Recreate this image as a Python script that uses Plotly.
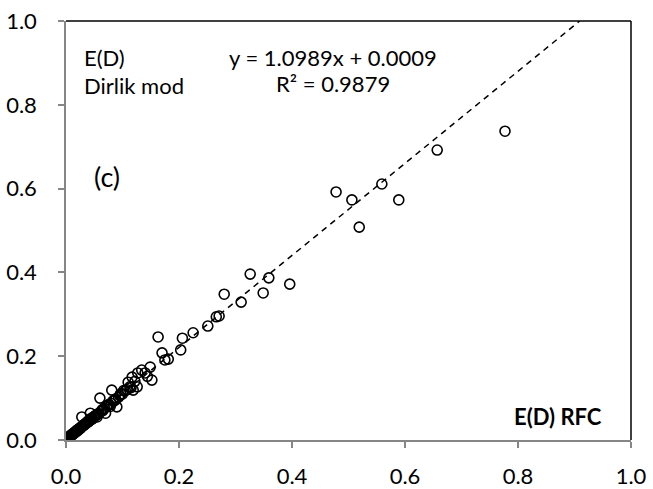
import plotly.graph_objects as go

# E(D) from the RFC method (x) vs the Dirlik model (y)
ed_rfc = [
    0.777, 0.657, 0.559, 0.506, 0.589, 0.519, 0.478,
    0.326, 0.359, 0.396, 0.280, 0.349, 0.310, 0.266, 0.271, 0.251, 0.225,
    0.206, 0.203, 0.163, 0.170, 0.175, 0.181, 0.149, 0.152,
    0.117, 0.127, 0.134, 0.110, 0.113, 0.108, 0.119, 0.126, 0.081, 0.060,
    0.087, 0.090, 0.078, 0.070, 0.055, 0.028, 0.043, 0.097, 0.102, 0.140,
    0.144, 0.122, 0.115, 0.105, 0.093,
    0.001, 0.002, 0.003, 0.004, 0.005, 0.006, 0.007, 0.008, 0.009, 0.010,
    0.011, 0.012, 0.013, 0.014, 0.015, 0.016, 0.018, 0.019, 0.020, 0.021,
    0.022, 0.023, 0.024, 0.025, 0.026, 0.027, 0.029, 0.030, 0.031, 0.032,
    0.033, 0.035, 0.036, 0.038, 0.039, 0.040, 0.042, 0.044, 0.045, 0.047,
    0.049, 0.050, 0.052, 0.054, 0.056, 0.058, 0.062, 0.064, 0.066, 0.068,
    0.072, 0.074, 0.076, 0.080, 0.083, 0.085, 0.088, 0.095, 0.100, 0.004,
    0.008, 0.012, 0.017, 0.034, 0.046, 0.065, 0.003, 0.006, 0.010, 0.015,
]
ed_dirlik = [
    0.737, 0.692, 0.611, 0.573, 0.573, 0.508, 0.592,
    0.396, 0.387, 0.372, 0.348, 0.351, 0.329, 0.294, 0.296, 0.272, 0.256,
    0.243, 0.215, 0.246, 0.208, 0.191, 0.193, 0.174, 0.143,
    0.150, 0.160, 0.167, 0.138, 0.127, 0.120, 0.119, 0.127, 0.119, 0.100,
    0.095, 0.079, 0.080, 0.064, 0.055, 0.055, 0.064, 0.110, 0.118, 0.160,
    0.152, 0.140, 0.125, 0.118, 0.102,
    0.002, 0.003, 0.004, 0.005, 0.006, 0.007, 0.008, 0.010, 0.011, 0.012,
    0.013, 0.014, 0.015, 0.016, 0.018, 0.018, 0.020, 0.023, 0.022, 0.025,
    0.024, 0.026, 0.027, 0.029, 0.028, 0.031, 0.033, 0.034, 0.035, 0.036,
    0.037, 0.040, 0.041, 0.042, 0.045, 0.044, 0.047, 0.049, 0.052, 0.051,
    0.055, 0.056, 0.058, 0.060, 0.062, 0.063, 0.068, 0.072, 0.073, 0.076,
    0.080, 0.082, 0.085, 0.087, 0.093, 0.094, 0.098, 0.106, 0.110, 0.006,
    0.010, 0.015, 0.020, 0.038, 0.050, 0.070, 0.003, 0.008, 0.012, 0.017,
]

# linear trendline reported on the chart
slope, intercept = 1.0989, 0.0009
r2 = 0.9879
fit_x = [0.0, (1.0 - intercept) / slope]
fit_y = [slope * v + intercept for v in fit_x]

tick_vals = [0.0, 0.2, 0.4, 0.6, 0.8, 1.0]
tick_text = ["0.0", "0.2", "0.4", "0.6", "0.8", "1.0"]

FONT = "Lato, 'Open Sans', sans-serif"
AXIS_GREY = "#868686"

fig = go.Figure()
fig.add_trace(go.Scatter(
    x=fit_x, y=fit_y, mode="lines",
    line=dict(color="black", width=1.5, dash="6px,5px"),
    hoverinfo="skip", showlegend=False,
))
fig.add_trace(go.Scatter(
    x=ed_rfc, y=ed_dirlik, mode="markers",
    marker=dict(symbol="circle-open", size=10, color="black",
                line=dict(width=1.6, color="black")),
    showlegend=False,
))

axis_common = dict(
    range=[0, 1], tickvals=tick_vals, ticktext=tick_text,
    showgrid=False, zeroline=False, showline=True, automargin=False,
    linecolor=AXIS_GREY, linewidth=1.5,
    ticks="outside", ticklen=6, tickwidth=1.5, tickcolor=AXIS_GREY,
    tickfont=dict(family=FONT, size=22, color="black"),
)
fig.update_xaxes(**axis_common, ticklabelstandoff=10)
fig.update_yaxes(**axis_common, ticklabelstandoff=17)

# black frame along the top and right edges
fig.add_shape(type="line", xref="paper", yref="paper", x0=0, x1=1, y0=1, y1=1,
              line=dict(color="black", width=1.5))
fig.add_shape(type="line", xref="paper", yref="paper", x0=1, x1=1, y0=0, y1=1,
              line=dict(color="black", width=1.5))

txt = dict(family=FONT, size=22, color="black")
fig.add_annotation(x=0.028, y=0.912, xref="x", yref="y", text="E(D)",
                   showarrow=False, xanchor="left", yanchor="middle", font=txt)
fig.add_annotation(x=0.028, y=0.847, xref="x", yref="y", text="Dirlik mod",
                   showarrow=False, xanchor="left", yanchor="middle", font=txt)
fig.add_annotation(x=0.472, y=0.912, xref="x", yref="y",
                   text=f"y = {slope:.4f}x + {intercept:.4f}",
                   showarrow=False, xanchor="center", yanchor="middle", font=txt)
fig.add_annotation(x=0.472, y=0.850, xref="x", yref="y",
                   text=f"R² = {r2:.4f}",
                   showarrow=False, xanchor="center", yanchor="middle", font=txt)
fig.add_annotation(x=0.046, y=0.63, xref="x", yref="y", text="(c)",
                   showarrow=False, xanchor="left", yanchor="middle",
                   font=dict(family=FONT, size=27, color="black"))
fig.add_annotation(x=0.952, y=0.057, xref="x", yref="y", text="<b>E(D) RFC</b>",
                   showarrow=False, xanchor="right", yanchor="middle", font=txt)

fig.update_layout(
    width=653, height=489,
    margin=dict(l=66, r=22, t=21, b=49),
    plot_bgcolor="white", paper_bgcolor="white",
)

fig.write_html("out.html")
